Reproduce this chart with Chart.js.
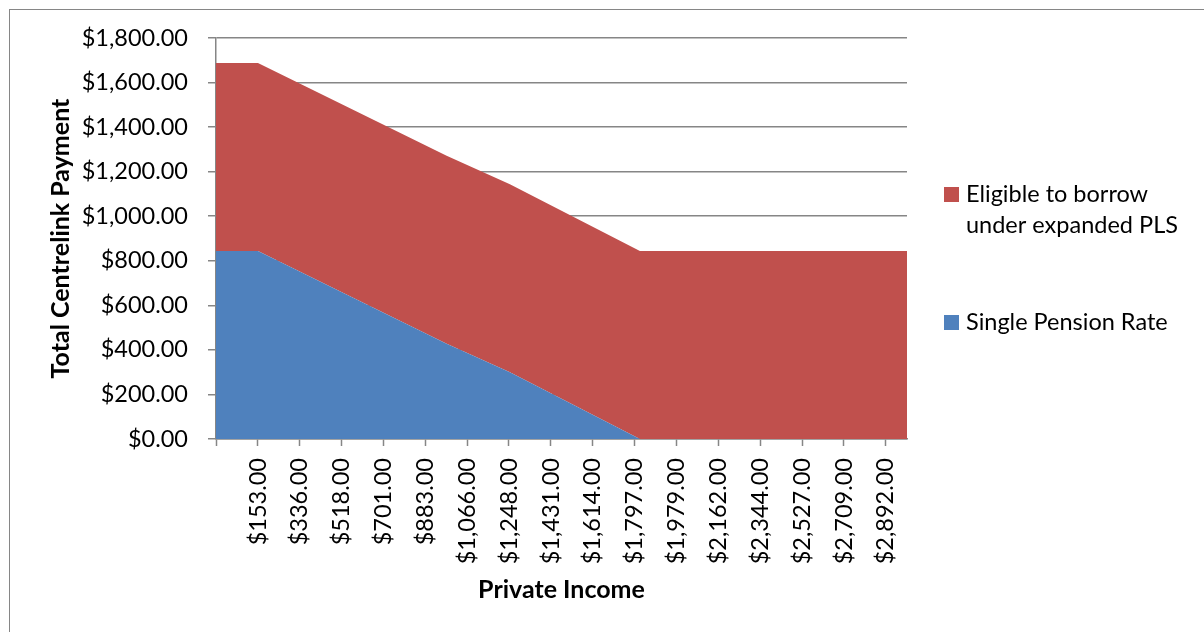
<!DOCTYPE html>
<html>
<head>
<meta charset="utf-8">
<title>Total Centrelink Payment by Private Income</title>
<script src="https://cdn.jsdelivr.net/npm/chart.js@4.4.0/dist/chart.umd.min.js"></script>
<style>
  html, body { margin: 0; padding: 0; background: #fff; }
  #wrap { position: relative; width: 1204px; height: 632px; }
</style>
</head>
<body>
<div id="wrap"><canvas id="chart"></canvas></div>
<script>
// Private income ($) at each break of the curves
const incomePoints = [-30, 153, 976, 1252, 1819, 2984];
// Series values at those incomes
const pensionRate = [844, 844, 428, 300, 0, 0];
const borrowExtra = [844, 844, 844, 844, 844, 844];
// Labelled ticks on the income axis
const incomeTicks = [153, 336, 518, 701, 883, 1066, 1248, 1431, 1614, 1797, 1979, 2162, 2344, 2527, 2709, 2892];
const seriesNames = ['Single Pension Rate', 'Eligible to borrow under expanded PLS'];

const GRAY = '#868686';
const FONT = 'Lato';
const TEXT_SIZE = 23.5;
const TITLE_SIZE = 25;

function money(v){
  return '$' + Number(v).toLocaleString('en-US', {minimumFractionDigits: 2, maximumFractionDigits: 2});
}

function toPoints(values){
  return values.map((y, i) => ({x: incomePoints[i], y}));
}

// thin frame round the whole chart (only top/left fall inside the window)
const framePlugin = {
  id: 'frame',
  beforeDraw(chart){
    const ctx = chart.ctx;
    ctx.save();
    ctx.strokeStyle = GRAY;
    ctx.lineWidth = 1;
    ctx.strokeRect(9.5, 9.5, 1400, 1400);
    ctx.restore();
  }
};

// legend on the right, reversed order like Excel, with wrapped text
function wrapText(ctx, text, maxWidth){
  const words = text.split(' ');
  const lines = [];
  let line = '';
  words.forEach(w => {
    const test = line ? line + ' ' + w : w;
    if (ctx.measureText(test).width > maxWidth && line) {
      lines.push(line);
      line = w;
    } else {
      line = test;
    }
  });
  if (line) lines.push(line);
  return lines;
}

const sideLegend = {
  id: 'sideLegend',
  afterDraw(chart){
    const ctx = chart.ctx;
    const baselines = [202, 330];
    const items = chart.data.datasets.slice().reverse();
    ctx.save();
    ctx.font = `${TEXT_SIZE}px ${FONT}`;
    ctx.textBaseline = 'alphabetic';
    ctx.textAlign = 'left';
    items.forEach((ds, i) => {
      const y = baselines[i];
      ctx.fillStyle = ds.backgroundColor;
      ctx.fillRect(944, y - 15, 15, 15);
      ctx.fillStyle = '#000';
      wrapText(ctx, ds.label, 236).forEach((ln, j) => ctx.fillText(ln, 966, y + j * 31));
    });
    ctx.restore();
  }
};

function drawChart(){
  const ctx = document.getElementById('chart').getContext('2d');
  new Chart(ctx, {
    type: 'line',
    data: {
      datasets: [
        {
          label: seriesNames[0],
          data: toPoints(pensionRate),
          backgroundColor: '#4F81BD',
          borderColor: '#4F81BD',
          borderWidth: 0,
          pointRadius: 0,
          tension: 0,
          fill: 'origin'
        },
        {
          label: seriesNames[1],
          data: toPoints(borrowExtra),
          backgroundColor: '#C0504D',
          borderColor: '#C0504D',
          borderWidth: 0,
          pointRadius: 0,
          tension: 0,
          fill: '-1'
        }
      ]
    },
    options: {
      responsive: true,
      maintainAspectRatio: false,
      animation: false,
      layout: { padding: { left: 46, right: 297, top: 38, bottom: 27 } },
      plugins: {
        legend: { display: false },
        tooltip: { enabled: false }
      },
      scales: {
        x: {
          type: 'linear',
          min: incomePoints[0],
          max: incomePoints[incomePoints.length - 1],
          afterBuildTicks: s => { s.ticks = [s.min, ...incomeTicks].map(v => ({value: v})); },
          afterFit: s => { s.height = 166; },
          ticks: {
            autoSkip: false,
            minRotation: 90,
            maxRotation: 90,
            padding: 12,
            color: '#000',
            font: { family: FONT, size: TEXT_SIZE },
            callback: v => v === incomePoints[0] ? '' : money(v)
          },
          grid: { drawOnChartArea: false, drawTicks: true, tickLength: 7, tickColor: GRAY, tickWidth: 1.5 },
          border: { display: true, color: GRAY, width: 1.5 },
          title: {
            display: true,
            text: 'Private Income',
            color: '#000',
            padding: 0,
            font: { family: FONT, size: TITLE_SIZE, weight: 'bold' }
          }
        },
        y: {
          stacked: true,
          min: 0,
          max: 1800,
          afterFit: s => { s.width = 216 - 46; },
          ticks: {
            stepSize: 200,
            padding: 20,
            color: '#000',
            font: { family: FONT, size: TEXT_SIZE },
            callback: v => money(v)
          },
          grid: { color: GRAY, lineWidth: 1.5, tickLength: 8, tickColor: GRAY },
          border: { display: true, color: GRAY, width: 1.5 },
          title: {
            display: true,
            text: 'Total Centrelink Payment',
            color: '#000',
            padding: 0,
            font: { family: FONT, size: TITLE_SIZE, weight: 'bold' }
          }
        }
      }
    },
    plugins: [framePlugin, sideLegend]
  });
}

const fontLoads = [`${TEXT_SIZE}px ${FONT}`, `bold ${TITLE_SIZE}px ${FONT}`].map(f => document.fonts.load(f));
Promise.all(fontLoads).then(drawChart, drawChart);
</script>
</body>
</html>
